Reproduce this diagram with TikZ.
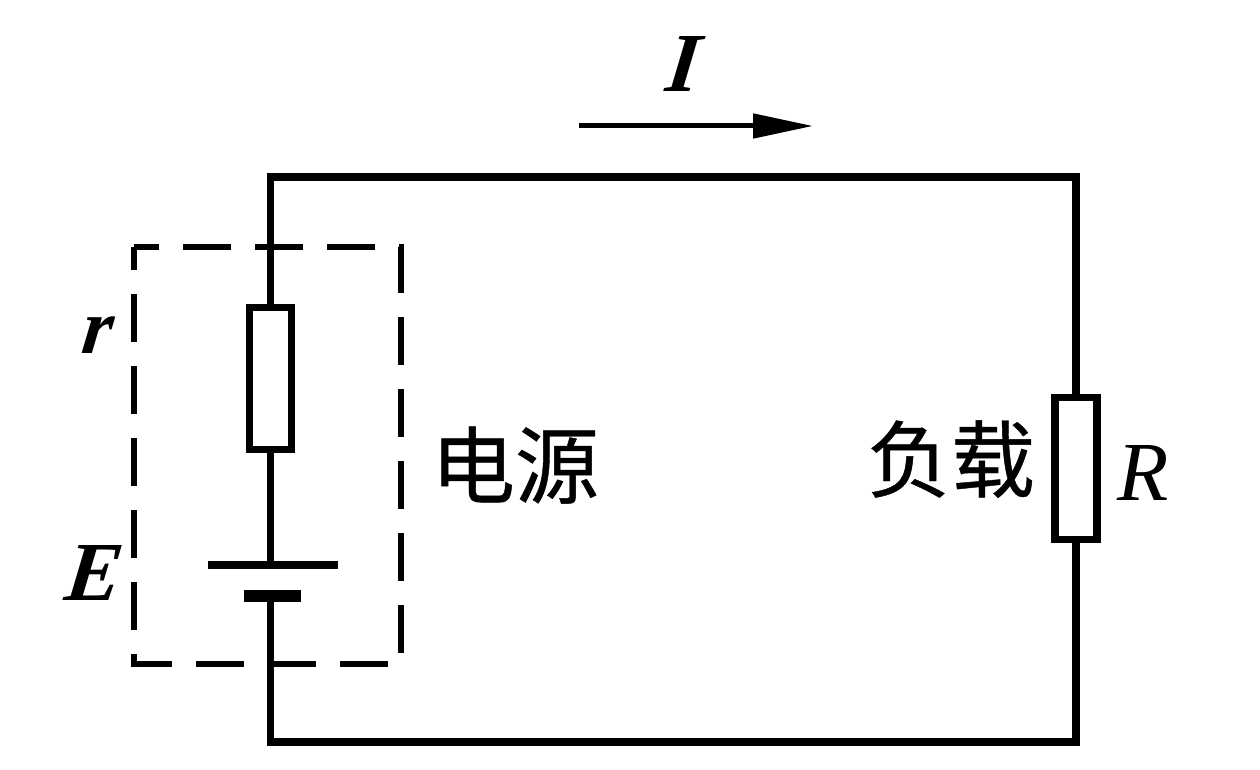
\documentclass[tikz,border=0pt]{standalone}
\usepackage{fontspec}
\setmainfont{Liberation Serif}
\newfontfamily\cjkfont[FakeBold=0.5]{Noto Sans CJK SC}
\newfontfamily\slantfont[FakeSlant=0.12]{Liberation Serif Bold Italic}
\usetikzlibrary{arrows.meta}
\tikzset{
  wire/.style={line width=7.5pt,line join=miter},
  resistor/.style={draw,line width=7.5pt,minimum width=42pt,minimum height=142pt,inner sep=0pt,fill=white},
  plate/.style={fill=black,inner sep=0pt},
  sourcebox/.style={line width=6.5pt,dash pattern=on 48pt off 24pt,dash phase=23pt,line join=miter},
  mathbi/.style={inner sep=0pt,anchor=base,font=\fontsize{84}{84}\selectfont\bfseries\itshape},
  mathslant/.style={inner sep=0pt,anchor=base,font=\fontsize{84}{84}\selectfont\slantfont},
  mathit/.style={inner sep=0pt,anchor=base,font=\fontsize{84}{84}\selectfont\itshape},
  cjklabel/.style={inner sep=0pt,anchor=base,font=\fontsize{84}{84}\selectfont\cjkfont},
  current/.style={line width=5pt,-{Triangle[length=60pt,width=24pt]}}
}
\begin{document}
\begin{tikzpicture}[x=1pt,y=-1pt]
\useasboundingbox (0,0) rectangle (1260,770);
\coordinate (tl) at (270.5,177);
\coordinate (tr) at (1076,177);
\coordinate (bl) at (270.5,742);
\coordinate (br) at (1076,742);
\coordinate (c1) at (134,247);
\coordinate (c2) at (401,247);
\coordinate (c3) at (401,664);
\coordinate (c4) at (134,664);
\coordinate (ia) at (579,126);
\coordinate (ib) at (813,126);
\node[resistor] (rint) at (270.5,378.5) {};
\node[resistor] (rload) at (1076,468.5) {};
\node[plate,minimum width=130pt,minimum height=8pt] (longp) at (273,565) {};
\node[plate,minimum width=57pt,minimum height=12pt] (shortp) at (272.5,596) {};
\draw[wire] (rint.north) -- (tl) -- (tr) -- (rload.north);
\draw[wire] (rload.south) -- (br) -- (bl) -- (bl |- shortp.south);
\draw[wire] (rint.south) -- (rint.south |- longp.north);
\draw[sourcebox] (c1) -- (c2) -- (c3) -- (c4) -- cycle;
\draw[current] (ia) -- (ib);
\node[mathslant] (lI) at (681,92) {I};
\node[mathslant,font=\fontsize{78}{78}\selectfont\slantfont] (lr) at (96,353) {r};
\node[mathslant] (lE) at (92,600) {E};
\node[mathit] (lR) at (1143,500) {R};
\node[cjklabel] (ldy) at (515,497) {电源};
\node[cjklabel] (lfz) at (951,491) {负载};
\end{tikzpicture}
\end{document}
